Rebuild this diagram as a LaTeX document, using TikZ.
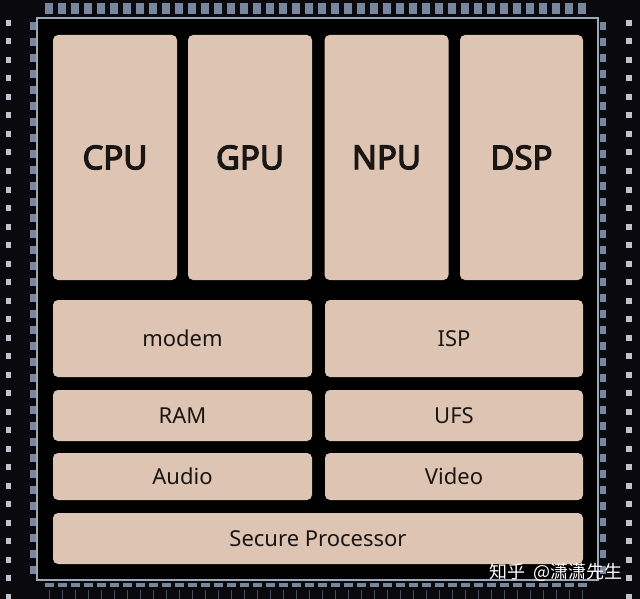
\documentclass[tikz,border=0pt]{standalone}
\usepackage{fontspec}
\setmainfont{Noto Sans}
\newfontfamily\bigfont{Noto Sans}[FakeBold=3.6]
\newfontfamily\cjk{Noto Sans CJK SC}
\definecolor{chipbg}{RGB}{10,10,14}
\definecolor{boxfill}{RGB}{221,196,179}
\definecolor{boxtext}{RGB}{26,22,20}
\definecolor{pin}{RGB}{120,135,160}
\definecolor{rim}{RGB}{160,168,184}
\definecolor{mark}{RGB}{190,195,205}
\tikzset{
  box/.style={fill=boxfill, rounded corners=5pt, draw=none, text=boxtext, inner sep=0pt, anchor=center},
  bigbox/.style={box, font=\bigfont\fontsize{33}{40}\selectfont},
  smallbox/.style={box, font=\fontsize{22}{26}\selectfont},
  pinrect/.style={fill=pin, draw=none},
  markrect/.style={fill=mark, draw=none},
}
\begin{document}
\begin{tikzpicture}[x=1pt,y=-1pt]
\useasboundingbox (0,0) rectangle (640,599);
\fill[chipbg] (0,0) rectangle (640,599);
% pins top
\foreach \i in {0,...,41} {
  \fill[pinrect] ({45+13*\i},3) rectangle ({53+13*\i},14);
}
% pins bottom
\foreach \i in {0,...,41} {
  \fill[pinrect] ({45+13*\i},583) rectangle ({54+13*\i},587);
  \fill[pin!60!black] ({49+13*\i},590) rectangle ({50+13*\i},599);
}
% pins left/right
\foreach \i in {0,...,34} {
  \fill[pinrect] (30,{22+16*\i}) rectangle (36,{30+16*\i});
  \fill[pinrect] (600,{22+16*\i}) rectangle (606,{30+16*\i});
  \fill[markrect] (6,{20+18.5*\i}) rectangle (11,{26+18.5*\i});
  \fill[markrect] (626,{20+18.5*\i}) rectangle (632,{26+18.5*\i});
}
% chip body
\fill[black] (37,18) rectangle (598,580);
\draw[rim, line width=1.4pt] (37,18) rectangle (598,580);
% blocks
\node[bigbox, minimum width=124pt, minimum height=245pt] (cpu) at (115,157.5) {CPU};
\node[bigbox, minimum width=124pt, minimum height=245pt] (gpu) at (250,157.5) {GPU};
\node[bigbox, minimum width=124pt, minimum height=245pt] (npu) at (386.5,157.5) {NPU};
\node[bigbox, minimum width=123pt, minimum height=245pt] (dsp) at (521.5,157.5) {DSP};
\node[smallbox, minimum width=259pt, minimum height=77pt] (modem) at (182.5,338.5) {modem};
\node[smallbox, minimum width=258pt, minimum height=77pt] (isp) at (454,338.5) {ISP};
\node[smallbox, minimum width=259pt, minimum height=51pt] (ram) at (182.5,415.5) {RAM};
\node[smallbox, minimum width=258pt, minimum height=51pt] (ufs) at (454,415.5) {UFS};
\node[smallbox, minimum width=259pt, minimum height=47pt] (audio) at (182.5,476.5) {Audio};
\node[smallbox, minimum width=258pt, minimum height=47pt] (video) at (454,476.5) {Video};
\node[smallbox, minimum width=530pt, minimum height=51pt] (secure) at (318,538.5) {Secure Processor};
% watermark
\node[text=white, font=\cjk\fontsize{18}{21}\selectfont, anchor=east, inner sep=0pt] (wm) at (623,572) {知乎\ \ @潇潇先生};
\end{tikzpicture}
\end{document}
